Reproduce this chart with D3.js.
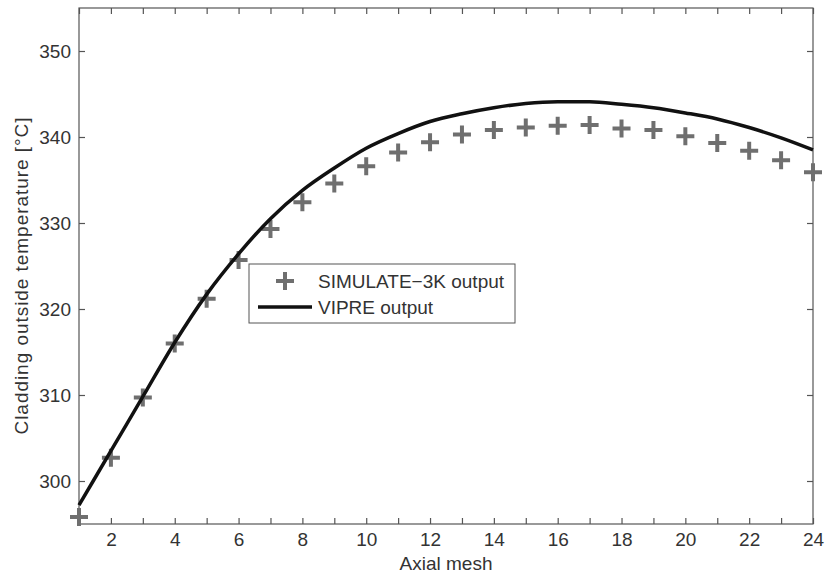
<!DOCTYPE html>
<html>
<head>
<meta charset="utf-8">
<script src="https://cdn.jsdelivr.net/npm/d3@7"></script>
<style>
  body { margin: 0; background: #fff; }
  text { font-family: "Liberation Sans", Arial, sans-serif; fill: #333; }
</style>
</head>
<body>
<script>
let width = 827, height = 577;
let margin = {left: 79, right: 14, top: 8, bottom: 53};

// axial mesh positions
let mesh = d3.range(1, 25);
// SIMULATE-3K output (crosses)
let simulateVals = [295.8, 302.7, 309.7, 316.0, 321.2, 325.7, 329.3, 332.4, 334.6, 336.6,
                    338.2, 339.4, 340.3, 340.8, 341.1, 341.3, 341.4, 341.0, 340.8, 340.1,
                    339.3, 338.4, 337.3, 335.9];
// VIPRE output (solid line)
let vipreVals = [297.2, 303.5, 309.8, 316.1, 321.7, 326.4, 330.5, 333.8, 336.4, 338.7,
                 340.4, 341.8, 342.7, 343.4, 343.9, 344.1, 344.1, 343.8, 343.4, 342.8,
                 342.1, 341.1, 339.9, 338.5];
let xTickLabels = [2, 4, 6, 8, 10, 12, 14, 16, 18, 20, 22, 24];
let yTickLabels = [300, 310, 320, 330, 340, 350];

let svg = d3.select('body').append('svg')
    .attr('width', width)
    .attr('height', height);

let x = d3.scaleLinear().domain([1, 24]).range([margin.left, width - margin.right]);
let y = d3.scaleLinear().domain([295, 355]).range([height - margin.bottom, margin.top]);

let axisColor = '#555';
let tickLen = 6;

// frame
svg.append('rect')
    .attr('x', x(1)).attr('y', y(355))
    .attr('width', x(24) - x(1)).attr('height', y(295) - y(355))
    .attr('fill', 'none').attr('stroke', axisColor).attr('stroke-width', 1.2);

function styleAxis(g){
    g.select('.domain').remove();
    g.selectAll('line').attr('stroke', axisColor).attr('stroke-width', 1.2);
    g.selectAll('text').attr('font-size', 19).attr('fill', '#333')
        .style('font-family', '"Liberation Sans", Arial, sans-serif');
}

// bottom ticks (inward), labels on even meshes
svg.append('g')
    .attr('transform', `translate(0,${y(295)})`)
    .call(d3.axisBottom(x).tickValues(mesh).tickSize(-tickLen).tickPadding(9)
        .tickFormat(d => xTickLabels.includes(d) ? d : ''))
    .call(styleAxis);
// top ticks
svg.append('g')
    .attr('transform', `translate(0,${y(355)})`)
    .call(d3.axisTop(x).tickValues(mesh).tickSize(-tickLen).tickFormat(''))
    .call(styleAxis);
// left ticks
svg.append('g')
    .attr('transform', `translate(${x(1)},0)`)
    .call(d3.axisLeft(y).tickValues(yTickLabels).tickSize(-tickLen).tickPadding(8))
    .call(styleAxis);
// right ticks
svg.append('g')
    .attr('transform', `translate(${x(24)},0)`)
    .call(d3.axisRight(y).tickValues(yTickLabels).tickSize(-tickLen).tickFormat(''))
    .call(styleAxis);

// axis labels
svg.append('text')
    .attr('x', (x(1) + x(24)) / 2)
    .attr('y', 570)
    .attr('text-anchor', 'middle')
    .attr('font-size', 19)
    .text('Axial mesh');
svg.append('text')
    .attr('transform', `translate(28,${(y(295) + y(355)) / 2 + 10}) rotate(-90)`)
    .attr('text-anchor', 'middle')
    .attr('font-size', 19)
    .attr('textLength', 317)
    .text('Cladding outside temperature [°C]');

// SIMULATE-3K crosses
let simData = mesh.map((m, i) => ({x: m, y: simulateVals[i]}));
let markerColor = '#6f6f6f';
function plus(sel, cx, cy){
    sel.append('path')
        .attr('d', `M${cx - 9},${cy}H${cx + 9}M${cx},${cy - 9}V${cy + 9}`)
        .attr('stroke', markerColor).attr('stroke-width', 4).attr('fill', 'none');
}
let markers = svg.append('g');
simData.forEach(d => plus(markers, x(d.x), y(d.y)));

// VIPRE line
let vipreData = mesh.map((m, i) => ({x: m, y: vipreVals[i]}));
svg.append('path')
    .datum(vipreData)
    .attr('d', d3.line().x(d => x(d.x)).y(d => y(d.y)).curve(d3.curveMonotoneX))
    .attr('fill', 'none')
    .attr('stroke', '#111')
    .attr('stroke-width', 3.5);

// legend
let legend = svg.append('g');
legend.append('rect')
    .attr('x', 249).attr('y', 264).attr('width', 266).attr('height', 59)
    .attr('fill', '#fff').attr('stroke', axisColor).attr('stroke-width', 1);
plus(legend, 285, 281);
legend.append('text').attr('x', 318).attr('y', 288).attr('font-size', 19).text('SIMULATE\u22123K output');
legend.append('line')
    .attr('x1', 258).attr('x2', 312).attr('y1', 307).attr('y2', 307)
    .attr('stroke', '#111').attr('stroke-width', 3.5);
legend.append('text').attr('x', 318).attr('y', 314).attr('font-size', 19).text('VIPRE output');
</script>
</body>
</html>
